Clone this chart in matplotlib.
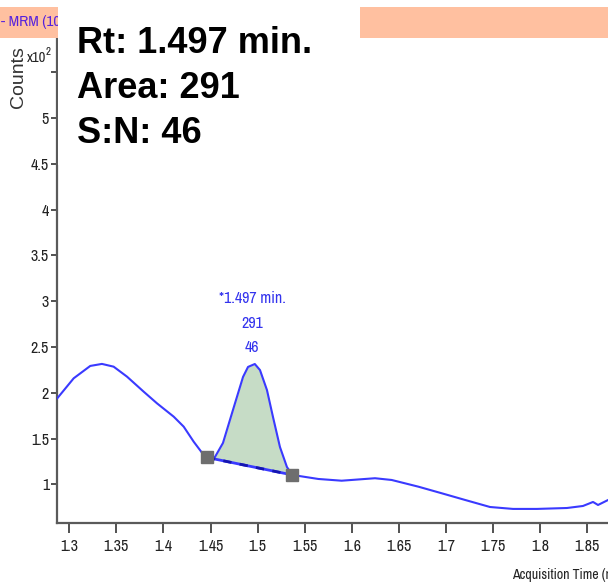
import matplotlib
matplotlib.use("Agg")
import matplotlib.pyplot as plt
from matplotlib.patches import Rectangle
import numpy as np

# Chromatogram trace (acquisition time in min, counts x10^2)
times = [1.2873, 1.3047, 1.3223, 1.3347, 1.3471, 1.3613, 1.3790, 1.3931,
         1.4109, 1.4215, 1.4321, 1.4427, 1.4462,
         1.4547, 1.4632, 1.4738, 1.4845, 1.4898, 1.4970, 1.5025, 1.5099,
         1.5163, 1.5237, 1.5311, 1.5368,
         1.5644, 1.5892, 1.6246, 1.6423, 1.6706, 1.6954, 1.7202, 1.7467,
         1.7711, 1.7966, 1.8284, 1.8454, 1.8561, 1.8614, 1.8720]
counts = [1.941, 2.159, 2.294, 2.316, 2.286, 2.177, 2.013, 1.886,
          1.740, 1.631, 1.467, 1.322, 1.295,
          1.300, 1.453, 1.813, 2.174, 2.283, 2.315, 2.249, 2.031,
          1.737, 1.409, 1.191, 1.104,
          1.060, 1.041, 1.068, 1.049, 0.976, 0.904, 0.831, 0.754,
          0.733, 0.733, 0.743, 0.765, 0.809, 0.776, 0.830]

# Integrated peak
peak_start = 1.4462
peak_end = 1.5368
peak_rt = 1.497
peak_area = 291
peak_sn = 46

x_ticks = [1.3, 1.35, 1.4, 1.45, 1.5, 1.55, 1.6, 1.65, 1.7, 1.75, 1.8, 1.85]
x_tick_labels = ["1.3", "1.35", "1.4", "1.45", "1.5", "1.55", "1.6", "1.65",
                 "1.7", "1.75", "1.8", "1.85"]
y_ticks = [1, 1.5, 2, 2.5, 3, 3.5, 4, 4.5, 5, 5.5]
y_tick_labels = ["1", "1.5", "2", "2.5", "3", "3.5", "4", "4.5", "5", ""]

W, H = 608, 588
fig = plt.figure(figsize=(W / 100, H / 100), dpi=100)
fig.patch.set_facecolor("white")

# Narrow sans-serif for the instrument-style annotations
narrow = ["Liberation Sans Narrow", "Archivo Narrow", "PT Sans Narrow",
          "Roboto Condensed", "Pragati Narrow", "Liberation Sans"]
TXT = 11.5


def fx(px):
    return px / W


def fy(py):
    return 1 - py / H


ax = fig.add_axes([fx(57.3), fy(523.3), 1 - fx(57.3), fy(38) - fy(523.3)])
ax.set_xlim(1.2873, 1.872)
ax.set_ylim(0.576, 5.874)
for s in ("top", "right"):
    ax.spines[s].set_visible(False)
for s in ("left", "bottom"):
    ax.spines[s].set_color("#5a5a5a")
    ax.spines[s].set_linewidth(1.6)

ax.set_xticks(x_ticks)
ax.set_xticklabels(x_tick_labels, fontfamily=narrow, fontsize=TXT, color="#222222")
ax.set_yticks(y_ticks)
ax.set_yticklabels(y_tick_labels, fontfamily=narrow, fontsize=TXT, color="#222222")
ax.tick_params(axis="x", length=7, width=1.2, color="#333333", pad=4)
ax.tick_params(axis="y", length=4, width=1.2, color="#333333", pad=2)

t = np.array(times)
c = np.array(counts)

# Peak fill between trace and straight baseline
mask = (t >= peak_start) & (t <= peak_end)
tp = t[mask]
cp = c[mask]
c0 = np.interp(peak_start, t, c)
c1 = np.interp(peak_end, t, c)
base = c0 + (c1 - c0) * (tp - peak_start) / (peak_end - peak_start)
ax.fill_between(tp, cp, base, color="#c6dcc6", zorder=1, linewidth=0)

ax.plot(t, c, color="#3a3aff", lw=1.5, solid_joinstyle="round", zorder=3)
ax.plot([peak_start, peak_end], [c0, c1], color="#3a3aff", lw=2.0, zorder=3)
ax.plot([peak_start, peak_end], [c0, c1], color="#1515b0", lw=2.0,
        dashes=(3, 3), zorder=3)
ax.plot([peak_start, peak_end], [c0, c1], ls="none", marker="s",
        markersize=8, color="#6e6e6e", zorder=4)

# Peak annotation
pk_y = max(cp)
for text, dy in [(f"*{peak_rt:.3f} min.", 47.5), (f"{peak_area}", 29.5),
                 (f"{peak_sn}", 12)]:
    ax.annotate(text, xy=(peak_rt, pk_y), xytext=(-2, dy),
                textcoords="offset points", ha="center", va="center",
                fontsize=TXT, color="#3333ee", fontfamily=narrow)

# Axis titles
fig.text(fx(512), fy(575), "Acquisition Time (min)", ha="left", va="center",
         fontsize=10, color="#222222", fontfamily=narrow)
fig.text(fx(18), fy(77), "Counts", rotation=90, ha="center", va="center",
         fontsize=14, color="#333333", fontfamily="Liberation Sans")
fig.text(fx(27), fy(58), "x10", ha="left", va="center", fontsize=10.5,
         color="#222222", fontfamily=narrow)
fig.text(fx(46), fy(52), "2", ha="left", va="center", fontsize=8,
         color="#222222", fontfamily=narrow)

# Title bar
fig.patches.append(Rectangle((0, fy(37.5)), 1, fy(7) - fy(37.5),
                             transform=fig.transFigure, facecolor="#ffc0a0",
                             edgecolor="none", zorder=2))
fig.text(fx(1), fy(22), "- MRM (10", ha="left", va="center", fontsize=11,
         color="#5522dd", fontfamily=narrow, zorder=3)

# Result box
fig.patches.append(Rectangle((fx(58), fy(165)), fx(360) - fx(58), fy(7) - fy(165),
                             transform=fig.transFigure, facecolor="white",
                             edgecolor="none", zorder=5))
for i, line in enumerate([f"Rt: {peak_rt:.3f} min.", f"Area: {peak_area}",
                          f"S:N: {peak_sn}"]):
    fig.text(fx(77), fy(53 + 45 * i), line, ha="left", va="baseline",
             fontsize=26, fontweight="bold", color="black",
             fontfamily="Liberation Sans", zorder=6)

fig.savefig("out.png", dpi=100)
